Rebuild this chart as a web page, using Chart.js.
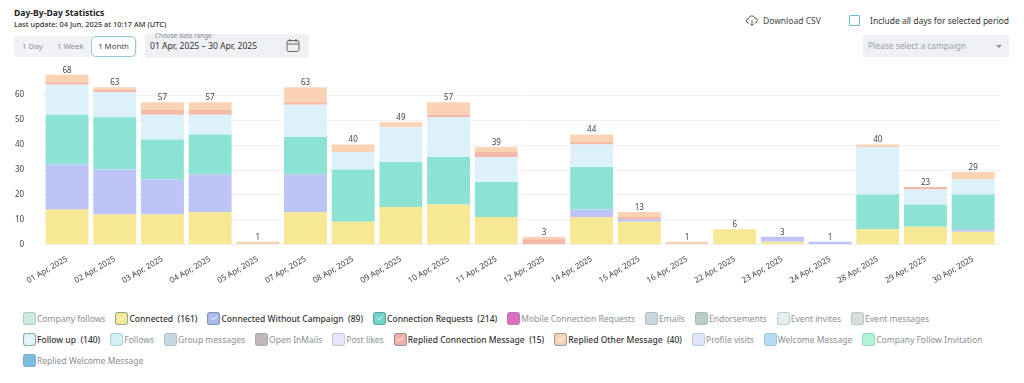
<!DOCTYPE html>
<html>
<head>
<meta charset="utf-8">
<title>Day-By-Day Statistics</title>
<script src="https://cdn.jsdelivr.net/npm/chart.js@4"></script>
<style>
    html, body { margin: 0; padding: 0; background: #fff; }
    body { position: relative; width: 1024px; height: 383px; overflow: hidden; font-family: "Noto Sans", sans-serif; color: #333; }
    .abs { position: absolute; white-space: nowrap; }
    #title { left: 14px; top: 7px; font-size: 8.6px; font-weight: 700; color: #222; }
    #updated { left: 14px; top: 19px; font-size: 7.4px; font-weight: 500; color: #333; }
    #range { left: 14px; top: 36px; width: 123px; height: 21px; background: #f0f2f5; border-radius: 4px; font-size: 7.8px; color: #8a9096; }
    #range span { position: absolute; top: 5px; }
    #range .on { left: 77px; top: 0; box-sizing: border-box; width: 45px; height: 21px; line-height: 18px; text-align: center; background: #fff; color: #444; border: 1.5px solid #8fcad4; border-radius: 5px; }
    #dates { left: 145px; top: 34px; width: 164px; height: 24px; background: #eef0f4; border-radius: 2px; }
    #dates b { position: absolute; left: 5px; top: 6px; font-size: 8.6px; font-weight: 400; color: #333; }
    #dates i { position: absolute; left: 10px; top: -3px; font-size: 6.4px; font-style: normal; color: #8a9096; }
    #dates svg { position: absolute; left: 141px; top: 4px; }
    #csv { left: 763px; top: 15px; font-size: 8.5px; color: #444; }
    #cloud { left: 746px; top: 15px; }
    #allbox { left: 849px; top: 15px; width: 9px; height: 9px; border: 1.5px solid #6fbccb; border-radius: 1px; }
    #all { left: 870px; top: 15px; font-size: 8.5px; color: #333; }
    #campaign { left: 863px; top: 35px; width: 146px; height: 22px; background: #eef0f4; font-size: 8.4px; color: #9aa1a8; }
    #campaign span { position: absolute; left: 5px; top: 5px; }
    #campaign u { position: absolute; left: 133px; top: 10px; border: 3px solid transparent; border-top: 3px solid #8a9096; border-bottom: 0; }
    #chartBox { position: absolute; left: 0; top: 54px; width: 1024px; height: 246px; }
    #legend { position: absolute; left: 23px; top: 311px; width: 985px; display: flex; flex-wrap: wrap; row-gap: 7px; column-gap: 10px; font-size: 8.5px; }
    .item { display: flex; align-items: center; height: 14px; color: #8b9094; white-space: pre; }
    .item.on { color: #333; font-weight: 500; }
    .box { position: relative; box-sizing: border-box; width: 13px; height: 13px; border-radius: 3px; margin-right: 1px; border: 1px solid rgba(120, 150, 150, .35); }
    .item.on .box { border-color: rgba(90, 130, 140, .65); }
    .item.on .box::after { content: ""; position: absolute; left: 3.5px; top: 1.5px; width: 3px; height: 5px; border: solid rgba(255, 255, 255, .7); border-width: 0 1px 1px 0; transform: rotate(45deg); }
</style>
</head>
<body>
<div class="abs" id="title">Day-By-Day Statistics</div>
<div class="abs" id="updated">Last update: 04 Jun, 2025 at 10:17 AM (UTC)</div>
<div class="abs" id="range">
    <span style="left:8px">1 Day</span><span style="left:43px">1 Week</span><span class="on">1 Month</span>
</div>
<div class="abs" id="dates">
    <i>Choose date range</i><b>01 Apr, 2025 – 30 Apr, 2025</b>
    <svg width="14" height="15" viewBox="0 0 14 15" fill="none" stroke="#666" stroke-width="1"><rect x="1" y="2.5" width="12" height="11" rx="2"/><path d="M1 6h12M4 1v3M10 1v3"/></svg>
</div>
<svg class="abs" id="cloud" width="12" height="12" viewBox="0 0 12 12" fill="none" stroke="#555" stroke-width="1"><path d="M3 8H2.6a2.2 2.2 0 0 1 0-4.4 3.2 3.2 0 0 1 6.2-.6 2.5 2.5 0 0 1 0 5H8.5M6 5v5.5M4.5 9l1.5 1.5L7.5 9"/></svg>
<div class="abs" id="csv">Download CSV</div>
<div class="abs" id="allbox"></div>
<div class="abs" id="all">Include all days for selected period</div>
<div class="abs" id="campaign"><span>Please select a campaign</span><u></u></div>
<div id="chartBox"><canvas id="myChart"></canvas></div>
<div id="legend"></div>

<script>
const days = ["01 Apr, 2025", "02 Apr, 2025", "03 Apr, 2025", "04 Apr, 2025", "05 Apr, 2025", "07 Apr, 2025", "08 Apr, 2025", "09 Apr, 2025", "10 Apr, 2025", "11 Apr, 2025", "12 Apr, 2025", "14 Apr, 2025", "15 Apr, 2025", "16 Apr, 2025", "22 Apr, 2025", "23 Apr, 2025", "24 Apr, 2025", "28 Apr, 2025", "29 Apr, 2025", "30 Apr, 2025"];

const connected = [14, 12, 12, 13, 0, 13, 9, 15, 16, 11, 0, 11, 9, 0, 6, 1, 0, 6, 7, 5];
const connectedNoCampaign = [18, 18, 14, 15, 0, 15, 0, 0, 0, 0, 0, 3, 1, 0, 0, 2, 1, 0, 0, 1];
const connectionRequests = [20, 21, 16, 16, 0, 15, 21, 18, 19, 14, 0, 17, 0, 0, 0, 0, 0, 14, 9, 14];
const followUp = [12, 10, 10, 8, 0, 13, 7, 14, 16, 10, 0, 9, 0, 0, 0, 0, 0, 19, 6, 6];
const repliedConnection = [1, 1, 2, 2, 0, 1, 0, 0, 1, 2, 2, 1, 1, 0, 0, 0, 0, 0, 1, 0];
const repliedOther = [3, 1, 3, 3, 1, 6, 3, 2, 5, 2, 1, 3, 2, 1, 0, 0, 0, 1, 0, 3];

const legendNames = ["Company follows", "Connected", "Connected Without Campaign", "Connection Requests", "Mobile Connection Requests", "Emails", "Endorsements", "Event invites", "Event messages", "Follow up", "Follows", "Group messages", "Open InMails", "Post likes", "Replied Connection Message", "Replied Other Message", "Profile visits", "Welcome Message", "Company Follow Invitation", "Replied Welcome Message"];
const legendCounts = [null, 161, 89, 214, null, null, null, null, null, 140, null, null, null, null, 15, 40, null, null, null, null];
const legendColors = ["#cfe9e0", "#f7e896", "#a9b8ee", "#6bd6cb", "#de6fc0", "#c9d6db", "#b9cfc6", "#e5eeee", "#d8deda", "#e0f3fa", "#cff0f7", "#c9d9e3", "#bdb8ba", "#eae5fa", "#f1b1a6", "#fad3b5", "#dfe6fb", "#b5dff5", "#b0f5d8", "#7dbbe2"];

const series = [
    { label: "Connected", data: connected, backgroundColor: "#f7e896" },
    { label: "Connected Without Campaign", data: connectedNoCampaign, backgroundColor: "#bdc5f6" },
    { label: "Connection Requests", data: connectionRequests, backgroundColor: "#8de3d3" },
    { label: "Follow up", data: followUp, backgroundColor: "#ddf1fa" },
    { label: "Replied Connection Message", data: repliedConnection, backgroundColor: "#f4b8a8" },
    { label: "Replied Other Message", data: repliedOther, backgroundColor: "#fad3b5" }
];

// grid runs a bit wider than the bars on both sides
const gridLines = {
    id: "gridLines",
    beforeDatasetsDraw(chart) {
        const ctx = chart.ctx;
        const y = chart.scales.y;
        ctx.save();
        ctx.strokeStyle = "#eef0f3";
        ctx.lineWidth = 1;
        y.ticks.forEach((t) => {
            const py = Math.round(y.getPixelForValue(t.value)) + 0.5;
            ctx.beginPath();
            ctx.moveTo(41, py);
            ctx.lineTo(1000, py);
            ctx.stroke();
        });
        ctx.restore();
    }
};

// day totals over each stack
const totals = {
    id: "totals",
    afterDatasetsDraw(chart) {
        const ctx = chart.ctx;
        ctx.save();
        ctx.font = "8px 'Noto Sans'";
        ctx.fillStyle = "#444";
        ctx.textAlign = "center";
        ctx.textBaseline = "bottom";
        days.forEach((d, i) => {
            const sum = series.reduce((acc, s) => acc + s.data[i], 0);
            ctx.fillText(sum, chart.scales.x.getPixelForValue(i), chart.scales.y.getPixelForValue(sum) - 0.5);
        });
        ctx.restore();
    }
};

new Chart(document.getElementById("myChart").getContext("2d"), {
    type: "bar",
    data: { labels: days, datasets: series },
    plugins: [gridLines, totals],
    options: {
        responsive: true,
        maintainAspectRatio: false,
        animation: false,
        layout: { padding: { top: 0, right: 27, left: 0, bottom: 0 } },
        datasets: { bar: { barPercentage: 0.9, categoryPercentage: 1, borderWidth: 0 } },
        scales: {
            x: {
                stacked: true,
                grid: { display: false },
                border: { display: false },
                afterFit: (scale) => { scale.height = 55.7; },
                ticks: { autoSkip: false, minRotation: 30, maxRotation: 30, padding: 2, color: "#444", font: { family: "Noto Sans", size: 8 } }
            },
            y: {
                stacked: true,
                min: 0,
                max: 70,
                grid: { display: false },
                border: { display: false },
                afterFit: (scale) => { scale.width = 43.2; },
                afterBuildTicks: (scale) => { scale.ticks = scale.ticks.filter((t) => t.value <= 60); },
                ticks: { stepSize: 10, padding: 11, color: "#444", font: { family: "Noto Sans", size: 8 } }
            }
        },
        plugins: { legend: { display: false }, tooltip: { enabled: false } }
    }
});

const legend = document.getElementById("legend");
legendNames.forEach((name, i) => {
    const on = legendCounts[i] !== null;
    const item = document.createElement("div");
    item.className = on ? "item on" : "item";
    const box = document.createElement("span");
    box.className = "box";
    box.style.background = legendColors[i];
    const text = document.createElement("span");
    text.textContent = on ? name + "  (" + legendCounts[i] + ")" : name;
    item.append(box, text);
    legend.append(item);
});
</script>
</body>
</html>
